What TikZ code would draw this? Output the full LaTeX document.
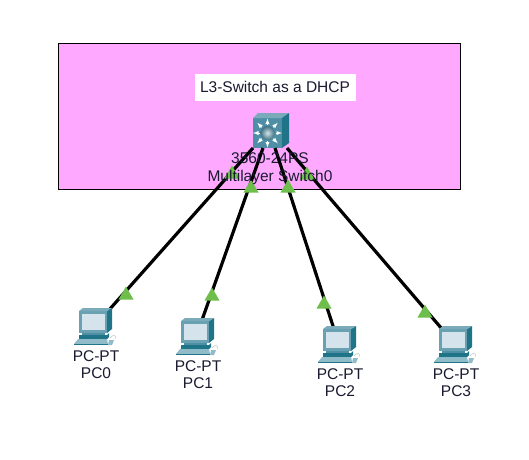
\documentclass[tikz,border=0pt]{standalone}
\usepackage{fontspec}
\setmainfont{Liberation Sans}
\definecolor{zone}{HTML}{FFA8FF}
\definecolor{teal}{HTML}{4F8FA5}
\definecolor{tealdark}{HTML}{1F7488}
\definecolor{teallight}{HTML}{8FBCC8}
\definecolor{screen}{HTML}{D5E4EC}
\definecolor{linkgreen}{HTML}{6DBE4B}
\definecolor{labelink}{HTML}{1A1A30}
\tikzset{
  x=1pt,y=-1pt,
  lbl/.style={inner sep=0pt,font=\fontsize{15.5}{17}\selectfont,text=labelink,align=center},
  link/.style={line width=3.2pt,black},
  tri/.pic={\fill[linkgreen] (-7.5,6.5) -- (0,-6.5) -- (7.5,6.5) -- cycle;},
  pcicon/.pic={
    \fill[tealdark] (28,0) -- (33,-3) -- (33,18) -- (28,22) -- cycle;
    \fill[teal!75] (0,0) -- (4,-3) -- (33,-3) -- (28,0) -- cycle;
    \fill[teal!85] (0,0) rectangle (28,22);
    \fill[screen] (3,2.5) rectangle (26,19);
    \fill[teal] (3,22) rectangle (26,24);
    \fill[tealdark] (0,24) -- (28,24) -- (30,22) -- (30,26) -- (28,28) -- (0,28) -- cycle;
    \fill[teallight] (-1,28) -- (28,28) -- (29,33) -- (-5,33) -- cycle;
    \fill[tealdark] (-5,33) rectangle (29,33.8);
    \fill[teallight] (30,29) -- (35,29) -- (33,34) -- (29,34) -- cycle;
    \draw[gray!50,line width=.5pt] (31,27) .. controls (34,23) and (38,24) .. (36,28);
  }
}
\begin{document}
\begin{tikzpicture}
\useasboundingbox (0,0) rectangle (529,459);
\fill[white] (0,0) rectangle (529,459);
\node[draw=black,fill=zone,line width=.8pt,minimum width=402pt,minimum height=146pt,inner sep=0pt] (area) at (259.5,116) {};
\node[fill=white,inner sep=0pt,minimum width=161pt,minimum height=27pt,font=\fontsize{15.5}{17}\selectfont,text=labelink] (title) at (275,87) {L3-Switch as a DHCP};
% switch
\node[fill=teal,minimum width=29pt,minimum height=30pt,inner sep=0pt] (sw) at (267.5,133) {};
\fill[teal!75] (253,118) -- (258,113) -- (289,113) -- (282,118) -- cycle;
\fill[tealdark] (282,118) -- (289,113) -- (289,143) -- (282,148) -- cycle;
\foreach \a in {0,45,...,315}{
  \draw[white,line width=.9pt,-latex] (sw.center)+(\a:8) -- +(\a:14.5);
}
\shade[inner color=teal!25,outer color=teal!80!black] (sw.center) circle (7);
% PCs
\node[minimum width=28pt,minimum height=22pt,inner sep=0pt] (pc0) at (93,322) {};
\node[minimum width=28pt,minimum height=22pt,inner sep=0pt] (pc1) at (195,332) {};
\node[minimum width=28pt,minimum height=22pt,inner sep=0pt] (pc2) at (337,340) {};
\node[minimum width=28pt,minimum height=22pt,inner sep=0pt] (pc3) at (453,340) {};
% connector ends
\coordinate (s0) at (253,148); \coordinate (e0) at (109,310);
\coordinate (s1) at (263,148); \coordinate (e1) at (202,320);
\coordinate (s2) at (275,148); \coordinate (e2) at (334,329);
\coordinate (s3) at (287,148); \coordinate (e3) at (442,329);
\draw[link] (s0) -- (e0);
\draw[link] (s1) -- (e1);
\draw[link] (s2) -- (e2);
\draw[link] (s3) -- (e3);
\pic at (232,172) {tri}; \pic at (251,186) {tri}; \pic at (288,186) {tri}; \pic at (307,173) {tri};
\pic at (126,293) {tri}; \pic at (212,294) {tri}; \pic at (324,302) {tri}; \pic at (425,311) {tri};
\pic at (79,311) {pcicon};
\pic at (181,321) {pcicon};
\pic at (323,329) {pcicon};
\pic at (439,329) {pcicon};
\node[lbl] (swl) at (270,168.5) {3560-24PS\\[1pt]Multilayer Switch0};
\node[lbl] (l0) at (96,364.5) {PC-PT\\PC0};
\node[lbl] (l1) at (198,374.5) {PC-PT\\PC1};
\node[lbl] (l2) at (340,382.5) {PC-PT\\PC2};
\node[lbl] (l3) at (456,382.5) {PC-PT\\PC3};
\end{tikzpicture}
\end{document}
